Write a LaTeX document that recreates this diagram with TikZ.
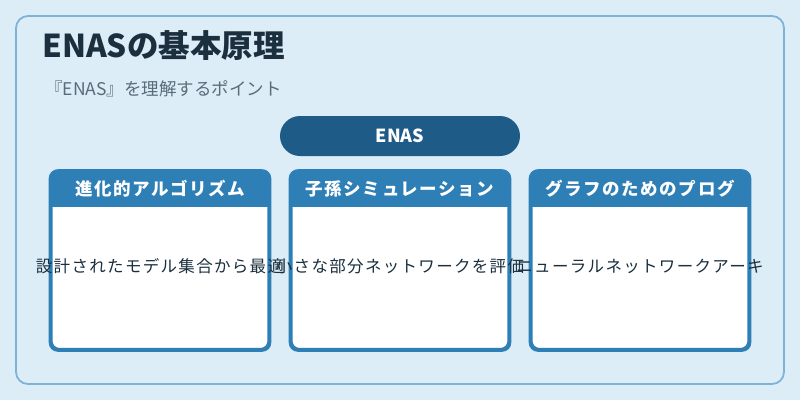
\documentclass[tikz,border=0pt]{standalone}
\usepackage{fontspec}
\setmainfont{Noto Sans CJK JP}
\usetikzlibrary{calc}
\definecolor{bgc}{HTML}{DCEDF8}
\definecolor{outerc}{HTML}{7FB3D5}
\definecolor{titlec}{HTML}{1B2F3E}
\definecolor{subc}{HTML}{5A6B7B}
\definecolor{pillc}{HTML}{1F5B87}
\definecolor{hdrc}{HTML}{2E7FB6}
\definecolor{bodyc}{HTML}{1B2F3E}
\begin{document}
\begin{tikzpicture}[x=1pt,y=-1pt,
  boxframe/.style={draw=hdrc, fill=white, line width=2.6pt, rounded corners=8pt,
    minimum width=217.4pt, minimum height=177.4pt, inner sep=0pt},
  hdrtext/.style={text=white, font=\fontsize{17.5}{20}\selectfont\bfseries\addfontfeature{LetterSpace=9}},
  bodytext/.style={text=bodyc, font=\fontsize{16.5}{20}\selectfont\addfontfeature{LetterSpace=8}},
  pill/.style={fill=pillc, rounded corners=20pt, minimum width=240pt, minimum height=40pt,
    inner sep=0pt, text=white, font=\fontsize{18}{20}\selectfont\bfseries}]
\useasboundingbox (0,0) rectangle (800,400);
\fill[bgc] (0,0) rectangle (800,400);
\draw[outerc, line width=1.8pt, fill=bgc, rounded corners=12pt] (16,16) rectangle (784,384);
\node[anchor=base west, text=titlec, font=\fontsize{31.5}{36}\selectfont\bfseries, inner sep=0pt] (title) at (42,57) {ENASの基本原理};
\node[anchor=base west, text=subc, font=\fontsize{17.5}{20}\selectfont, inner sep=0pt] (sub) at (45,95) {『ENAS』を理解するポイント};
\node[pill] (enas) at (400,136) {ENAS};
\foreach \i/\cx/\h in {1/160/進化的アルゴリズム, 2/400/子孫シミュレーション, 3/640/グラフのためのプログ}{
  \node[boxframe] (b\i) at (\cx,260.5) {};
  \fill[hdrc, rounded corners=7pt] (b\i.north west) rectangle ($(b\i.north east)+(0,36)$);
  \fill[hdrc] ($(b\i.north west)+(0,18)$) rectangle ($(b\i.north east)+(0,36)$);
  \draw[hdrc, line width=2.6pt, rounded corners=8pt] (b\i.north west) rectangle (b\i.south east);
  \node[hdrtext] (h\i) at ($(b\i.north)+(0,18.5)$) {\h};
}
\node[bodytext] (t1) at (160,266) {設計されたモデル集合から最適};
\node[bodytext] (t2) at (400,266) {小さな部分ネットワークを評価};
\node[bodytext] (t3) at (640,266) {ニューラルネットワークアーキ};
\end{tikzpicture}
\end{document}
